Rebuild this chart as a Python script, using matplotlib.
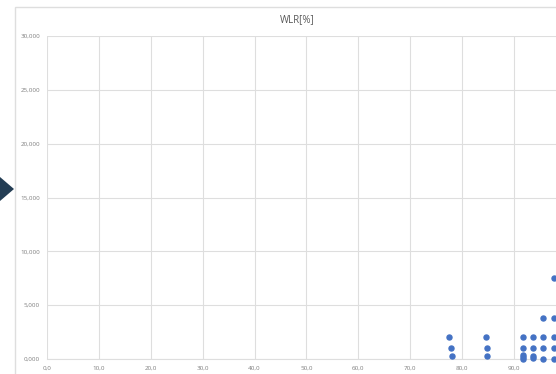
import matplotlib.pyplot as plt
from matplotlib.patches import Polygon, Rectangle
from matplotlib.ticker import FixedLocator, FuncFormatter, MultipleLocator

plt.rcParams['font.family'] = ['Open Sans', 'DejaVu Sans']

# WLR points grouped by column
wlr_x = [77.5, 77.8, 78.0,
         84.6, 84.7, 84.7,
         91.7, 91.7, 91.7, 91.7, 91.7,
         93.7, 93.7, 93.7, 93.7,
         95.6, 95.6, 95.6, 95.6,
         97.6, 97.6, 97.6, 97.6, 97.6]
wlr_y = [2.0, 1.0, 0.25,
         2.0, 1.0, 0.3,
         2.0, 1.0, 0.35, 0.15, 0.0,
         2.0, 1.0, 0.3, 0.1,
         3.8, 2.0, 1.0, 0.0,
         7.5, 3.8, 2.0, 1.0, 0.0]

GRID = '#dedede'
TEXT = '#7f7f7f'
BLUE = '#4472c4'

fig = plt.figure(figsize=(5.56, 3.74), dpi=100)

# chart frame (runs off the right and bottom edges)
fig.patches.append(Rectangle((15 / 556, -0.1), 1.2, 1 - 7 / 374 + 0.1,
                             transform=fig.transFigure, fill=False,
                             edgecolor=GRID, linewidth=1))

# navigation arrow on the left
fig.patches.append(Polygon([(0, 1 - 177 / 374), (14 / 556, 1 - 189 / 374), (0, 1 - 201 / 374)],
                           closed=True, transform=fig.transFigure,
                           facecolor='#233d54', edgecolor='none'))

ax = fig.add_axes([47 / 556, 15 / 374, 519 / 556, 323 / 374])
ax.scatter(wlr_x, wlr_y, s=13, color=BLUE, zorder=3, clip_on=False)

ax.set_xlim(0, 100)
ax.set_ylim(0, 30)
ax.xaxis.set_major_locator(FixedLocator(range(0, 100, 10)))
ax.yaxis.set_major_locator(MultipleLocator(5))
ax.xaxis.set_major_formatter(FuncFormatter(lambda v, p: f'{v:.1f}'.replace('.', ',')))
ax.yaxis.set_major_formatter(FuncFormatter(lambda v, p: f'{v:.3f}'.replace('.', ',')))

ax.grid(True, color=GRID, linewidth=0.8)
ax.set_axisbelow(True)
for side in ['top', 'right', 'left']:
    ax.spines[side].set_visible(False)
ax.spines['bottom'].set_color(GRID)
ax.tick_params(length=0, labelsize=4.5, labelcolor=TEXT, pad=5)

fig.text(297 / 556, 1 - 20 / 374, 'WLR[%]', ha='center', va='center',
         fontsize=7, color='#595959')

fig.savefig('out.png', dpi=100)
